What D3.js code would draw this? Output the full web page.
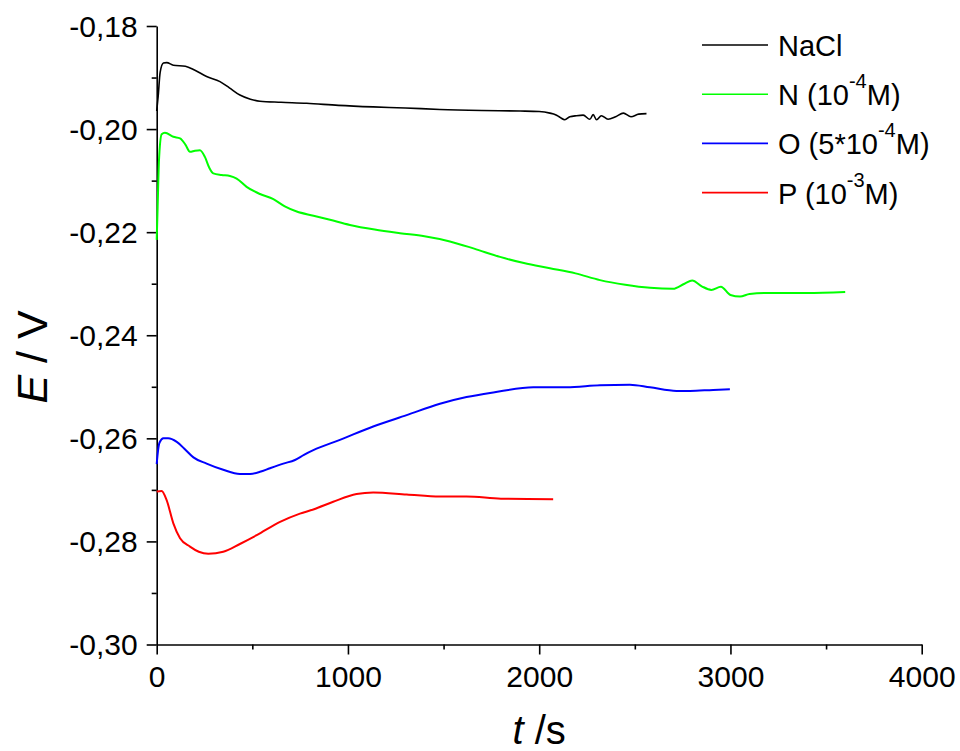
<!DOCTYPE html>
<html>
<head>
<meta charset="utf-8">
<script src="https://cdn.jsdelivr.net/npm/d3@7"></script>
<style>
  body { margin: 0; background: #fff; }
  text { font-family: "Liberation Sans", Arial, sans-serif; fill: #000; }
</style>
</head>
<body>
<script>
// series: [t (s), E (V)]
var nacl = [[0,-0.1965],[8,-0.1935],[18,-0.1890],[35,-0.1872],[52,-0.1871],[87,-0.1876],[150,-0.1878],[200,-0.1886],
  [261,-0.1898],[331,-0.1908],[380,-0.1920],[435,-0.1934],[490,-0.1942],[540,-0.1946],[650,-0.1948],[784,-0.1950],
  [950,-0.1954],[1132,-0.1957],[1300,-0.1959],[1481,-0.1962],[1700,-0.1964],[1900,-0.1965],[2000,-0.1966],[2056,-0.1969],
  [2085,-0.1972],[2108,-0.1977],[2134,-0.1982],[2160,-0.1976],[2195,-0.1974],[2230,-0.1973],[2265,-0.1981],[2282,-0.1972],
  [2300,-0.1982],[2325,-0.1974],[2360,-0.1981],[2400,-0.1976],[2440,-0.1969],[2480,-0.1976],[2520,-0.1971],[2561,-0.1970]];
var serN = [[0,-0.2215],[5,-0.2150],[12,-0.2060],[26,-0.2010],[43,-0.2007],[87,-0.2015],[122,-0.2018],[150,-0.2030],
  [174,-0.2044],[200,-0.2042],[226,-0.2041],[252,-0.2054],[275,-0.2075],[296,-0.2086],[340,-0.2089],[383,-0.2091],
  [418,-0.2096],[470,-0.2112],[540,-0.2126],[610,-0.2136],[670,-0.2150],[732,-0.2160],[820,-0.2168],[906,-0.2176],
  [1010,-0.2186],[1140,-0.2195],[1272,-0.2202],[1400,-0.2208],[1533,-0.2218],[1660,-0.2232],[1795,-0.2248],[1920,-0.2260],
  [2056,-0.2270],[2190,-0.2280],[2318,-0.2293],[2450,-0.2302],[2580,-0.2308],[2700,-0.2310],[2760,-0.2300],[2800,-0.2294],
  [2850,-0.2305],[2900,-0.2312],[2950,-0.2306],[3000,-0.2322],[3050,-0.2325],[3100,-0.2320],[3200,-0.2318],[3400,-0.2318],
  [3600,-0.2316]];
var serO = [[0,-0.2650],[5,-0.2630],[15,-0.2608],[35,-0.2600],[60,-0.2600],[105,-0.2607],[150,-0.2622],[192,-0.2637],
  [261,-0.2649],[348,-0.2661],[435,-0.2669],[488,-0.2669],[540,-0.2665],[592,-0.2658],[662,-0.2649],[723,-0.2642],
  [770,-0.2632],[819,-0.2623],[958,-0.2603],[1132,-0.2577],[1307,-0.2555],[1481,-0.2533],[1620,-0.2520],[1760,-0.2511],
  [1969,-0.2501],[2143,-0.2501],[2317,-0.2497],[2474,-0.2496],[2579,-0.2501],[2718,-0.2508],[2788,-0.2508],[2910,-0.2506],
  [2997,-0.2505]];
var serP = [[0,-0.2703],[26,-0.2702],[52,-0.2720],[87,-0.2765],[122,-0.2794],[174,-0.2810],[220,-0.2820],[270,-0.2824],
  [348,-0.2820],[435,-0.2805],[523,-0.2788],[645,-0.2762],[749,-0.2746],[819,-0.2738],[923,-0.2723],[1045,-0.2708],
  [1132,-0.2705],[1307,-0.2709],[1481,-0.2713],[1620,-0.2713],[1800,-0.2717],[2073,-0.2718]];

var seriesColors = ["#000000", "#00ff00", "#0000ff", "#ff0000"];
// legend labels: [before superscript, superscript, after]
var legendLabels = [["NaCl", "", ""], ["N (10", "-4", "M)"], ["O (5*10", "-4", "M)"], ["P (10", "-3", "M)"]];
var xTicks = [0, 1000, 2000, 3000, 4000];
var yTicks = [-0.30, -0.28, -0.26, -0.24, -0.22, -0.20, -0.18];

var margin = { top: 26, right: 38.3, bottom: 106.5, left: 156.7 };
var width = 960 - margin.left - margin.right,
    height = 751 - margin.top - margin.bottom;

var svg = d3.select("body").append("svg")
    .attr("width", 960)
    .attr("height", 751);

var g = svg.append("g")
    .attr("transform", "translate(" + margin.left + "," + margin.top + ")");

var x = d3.scaleLinear().domain([0, 4000]).range([0, width]);
var y = d3.scaleLinear().domain([-0.30, -0.18]).range([height, 0]);

// minor ticks first, then the major axes on top
g.append("g")
    .attr("transform", "translate(0," + height + ")")
    .call(d3.axisBottom(x).tickValues(d3.range(500, 4000, 1000)).tickSize(5).tickFormat(""))
    .call(function (a) { a.select(".domain").remove(); });
g.append("g")
    .call(d3.axisLeft(y).tickValues(d3.range(-0.29, -0.18, 0.02)).tickSize(5).tickFormat(""))
    .call(function (a) { a.select(".domain").remove(); });

var xAxis = g.append("g")
    .attr("transform", "translate(0," + height + ")")
    .call(d3.axisBottom(x).tickValues(xTicks).tickSize(10).tickSizeOuter(0).tickPadding(11).tickFormat(d3.format("d")));
var yAxis = g.append("g")
    .call(d3.axisLeft(y).tickValues(yTicks).tickSize(10).tickSizeOuter(0).tickPadding(9)
        .tickFormat(function (d) { return d.toFixed(2).replace(".", ","); }));

g.selectAll(".domain, .tick line").attr("stroke", "#000").attr("stroke-width", 1.6);
xAxis.selectAll("text").style("font-size", "30px").attr("dy", "0.71em");
yAxis.selectAll("text").style("font-size", "30px").attr("dy", "0.34em");

// axis titles
var xt = svg.append("text")
    .attr("x", margin.left + width / 2)
    .attr("y", 744)
    .attr("text-anchor", "middle")
    .style("font-size", "40px");
xt.append("tspan").style("font-style", "italic").text("t");
xt.append("tspan").text(" /s");

var yt = svg.append("text")
    .attr("transform", "translate(47,357)rotate(-90)")
    .attr("text-anchor", "middle")
    .style("font-size", "43px");
yt.append("tspan").style("font-style", "italic").text("E");
yt.append("tspan").text(" / V");

// curves
var line = d3.line()
    .x(function (d) { return x(d[0]); })
    .y(function (d) { return y(d[1]); })
    .curve(d3.curveMonotoneX);

var allSeries = [nacl, serN, serO, serP];
g.selectAll("path.series").data(allSeries).enter().append("path")
    .attr("class", "series")
    .attr("fill", "none")
    .attr("stroke", function (d, i) { return seriesColors[i]; })
    .attr("stroke-width", function (d, i) { return i === 0 ? 1.6 : 2; })
    .attr("stroke-linejoin", "round")
    .attr("d", line);

// legend
var legend = svg.append("g").attr("transform", "translate(702,45)");
var row = legend.selectAll("g").data(legendLabels).enter().append("g")
    .attr("transform", function (d, i) { return "translate(0," + (i * 49.2) + ")"; });
row.append("line")
    .attr("x2", 66)
    .attr("stroke", function (d, i) { return seriesColors[i]; })
    .attr("stroke-width", 1.6);
var lt = row.append("text")
    .attr("x", 76)
    .attr("y", 11)
    .style("font-size", "29px");
lt.append("tspan").text(function (d) { return d[0]; });
lt.append("tspan").attr("dy", -17).style("font-size", "20px").text(function (d) { return d[1]; });
lt.append("tspan").attr("dy", function (d) { return d[1] ? 17 : 0; }).text(function (d) { return d[2]; });
</script>
</body>
</html>
